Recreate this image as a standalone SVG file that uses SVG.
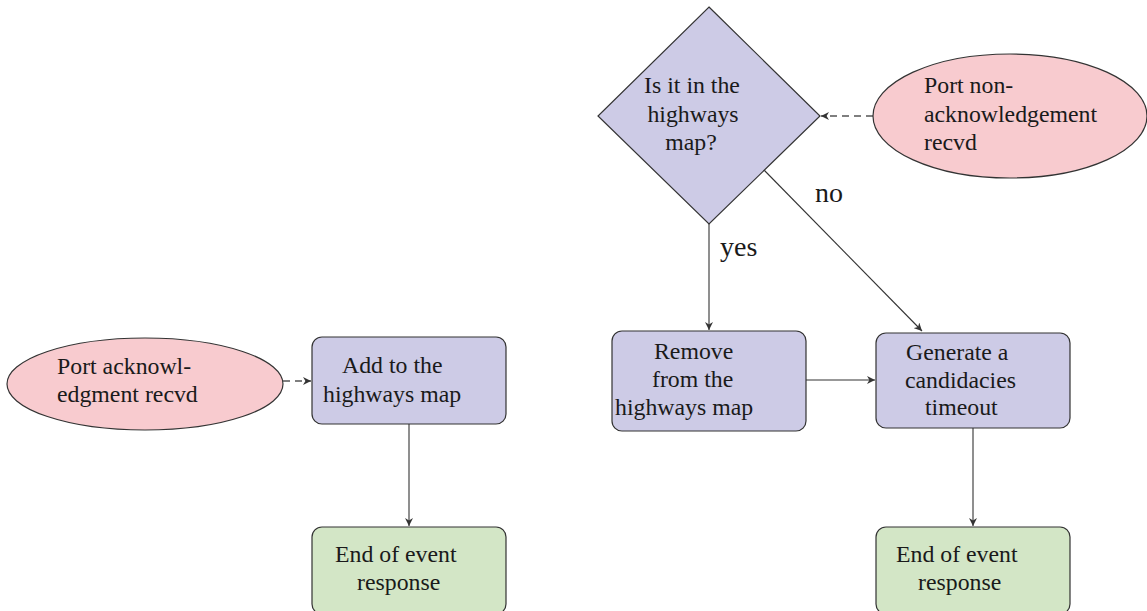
<svg xmlns="http://www.w3.org/2000/svg" width="1147" height="611" viewBox="0 0 1147 611">
<style>
.t{font-family:"Liberation Serif","Times New Roman",serif;font-size:23.8px;fill:#1a1a1a}
.l{font-size:28px}
.proc{fill:#cdcbe6;stroke:#333;stroke-width:1.2}
.dec{fill:#cdcbe6;stroke:#333;stroke-width:1.2}
.ev{fill:#f8cbcf;stroke:#333;stroke-width:1.2}
.end{fill:#d3e6c6;stroke:#333;stroke-width:1.2}
.c{fill:none;stroke:#333;stroke-width:1.1}
.d{fill:none;stroke:#555;stroke-width:1.3;stroke-dasharray:7 5}
</style>
<defs>
<marker id="ah" viewBox="0 0 10 10" refX="10" refY="5" markerWidth="8" markerHeight="8" markerUnits="userSpaceOnUse" orient="auto">
<path d="M0,0 L10,5 L0,10 L3,5 Z" fill="#333"/>
</marker>
</defs>
<g id="connectors">
<line class="d" x1="283" y1="381" x2="311" y2="381" marker-end="url(#ah)"/>
<line class="c" x1="409" y1="424" x2="409" y2="526" marker-end="url(#ah)"/>
<line class="d" x1="873" y1="116" x2="821" y2="116" marker-end="url(#ah)"/>
<line class="c" x1="709" y1="224" x2="709" y2="330" marker-end="url(#ah)"/>
<line class="c" x1="764" y1="170" x2="922" y2="331" marker-end="url(#ah)"/>
<line class="c" x1="806" y1="380" x2="875" y2="380" marker-end="url(#ah)"/>
<line class="c" x1="973" y1="428" x2="973" y2="526" marker-end="url(#ah)"/>
<text class="t l" x="815" y="202">no</text>
<text class="t l" x="720" y="256">yes</text>
</g>
<g id="ack">
<ellipse class="ev" cx="145" cy="384" rx="138" ry="46"/>
<text class="t" x="57" y="374">Port acknowl-</text>
<text class="t" x="57" y="402">edgment recvd</text>
</g>
<g id="add">
<rect class="proc" x="312" y="337" width="194" height="87" rx="10"/>
<text class="t" x="342" y="373">Add to the</text>
<text class="t" x="323" y="402">highways map</text>
</g>
<g id="end1">
<rect class="end" x="312" y="527" width="194" height="87" rx="10"/>
<text class="t" x="335" y="562">End of event</text>
<text class="t" x="357" y="590">response</text>
</g>
<g id="decision">
<polygon class="dec" points="709,7 820,116 709,224 598,116"/>
<text class="t" x="692" y="93" text-anchor="middle">Is it in the</text>
<text class="t" x="693" y="122" text-anchor="middle">highways</text>
<text class="t" x="691" y="150" text-anchor="middle">map?</text>
</g>
<g id="nack">
<ellipse class="ev" cx="1010" cy="116" rx="137" ry="62"/>
<text class="t" x="924" y="93">Port non-</text>
<text class="t" x="924" y="122">acknowledgement</text>
<text class="t" x="924" y="150">recvd</text>
</g>
<g id="remove">
<rect class="proc" x="612" y="331" width="194" height="100" rx="10"/>
<text class="t" x="654" y="359">Remove</text>
<text class="t" x="652" y="387">from the</text>
<text class="t" x="615" y="415">highways map</text>
</g>
<g id="generate">
<rect class="proc" x="876" y="333" width="194" height="95" rx="10"/>
<text class="t" x="906" y="360">Generate a</text>
<text class="t" x="905" y="388">candidacies</text>
<text class="t" x="925" y="415">timeout</text>
</g>
<g id="end2">
<rect class="end" x="876" y="527" width="194" height="87" rx="10"/>
<text class="t" x="896" y="562">End of event</text>
<text class="t" x="918" y="590">response</text>
</g>
</svg>
